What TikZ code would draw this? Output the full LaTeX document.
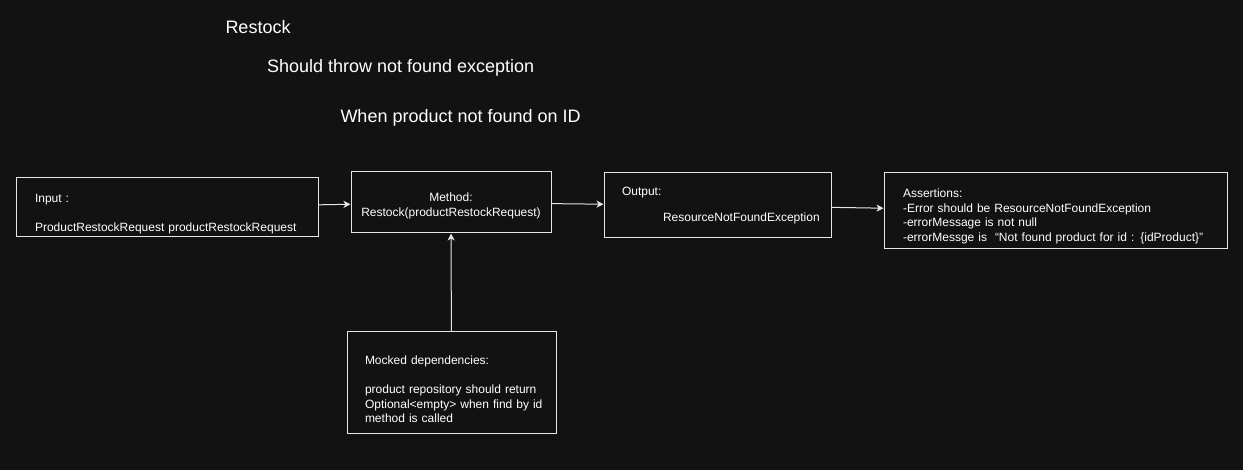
\documentclass[tikz,border=0pt]{standalone}
\usepackage{fontspec}
\setmainfont{Liberation Sans}
\usetikzlibrary{positioning,arrows.meta}
\definecolor{bgdark}{HTML}{121212}
\definecolor{fgline}{HTML}{E6E6E6}
\tikzset{>={Stealth[length=7pt,width=7pt,inset=2pt]}}
\tikzset{
  box/.style={draw=fgline, line width=1pt, fill=bgdark, text=white, font=\fontsize{12}{14.5}\selectfont, inner sep=0pt},
  title/.style={text=white, font=\fontsize{18}{20}\selectfont, anchor=base west, inner sep=0pt}
}
\newcommand{\topgap}[1]{\rule{0pt}{#1}}

\begin{document}
\begin{tikzpicture}[x=1pt, y=1pt, line width=1pt, draw=fgline]
  \fill[bgdark] (0,0) rectangle (1243,470);
  \useasboundingbox (0,0) rectangle (1243,470);
  % titles
  \node[title] (restock) at (225,436) {Restock};
  \node[title] (should) at (266.5,397) {Should throw not found exception};
  \node[title] (when) at (340,347) {When product not found on ID};
  % boxes
  \node[box, minimum width=302pt, minimum height=59pt, text width=264pt, align=left] (input) at (167,262.5)
    {\topgap{22pt}Input :\\[14.5pt]ProductRestockRequest productRestockRequest};
  \node[box, minimum width=200pt, minimum height=61pt, text width=180pt, align=center] (method) [right=32pt of input, yshift=5pt]
    {\topgap{16pt}Method:\\Restock(productRestockRequest)};
  \node[box, minimum width=227pt, minimum height=65pt, text width=191pt, align=left] (output) [right=52pt of method, yshift=-3pt]
    {Output:\\[11.5pt]\mbox{\hspace*{41pt}ResourceNotFoundException}};
  \node[box, minimum width=343pt, minimum height=76pt, text width=305pt, align=left] (assert) [right=52pt of output, yshift=-5.5pt]
    {\topgap{20pt}Assertions:\\-Error should be ResourceNotFoundException\\-errorMessage is not null\\\mbox{-errorMessge is \ ``Not found product for id : \{idProduct\}"}};
  \node[box, minimum width=209pt, minimum height=102pt, text width=173pt, align=left] (mocked) [below=98pt of method, xshift=0.5pt]
    {\topgap{22pt}Mocked dependencies:\\[14.5pt]product repository should return\\\mbox{Optional\textless empty\textgreater{} when find by id}\\method is called};
  \path[->, fgline] (input) edge (method)
                    (method) edge (output)
                    (output) edge (assert)
                    (mocked) edge (method);
\end{tikzpicture}
\end{document}
